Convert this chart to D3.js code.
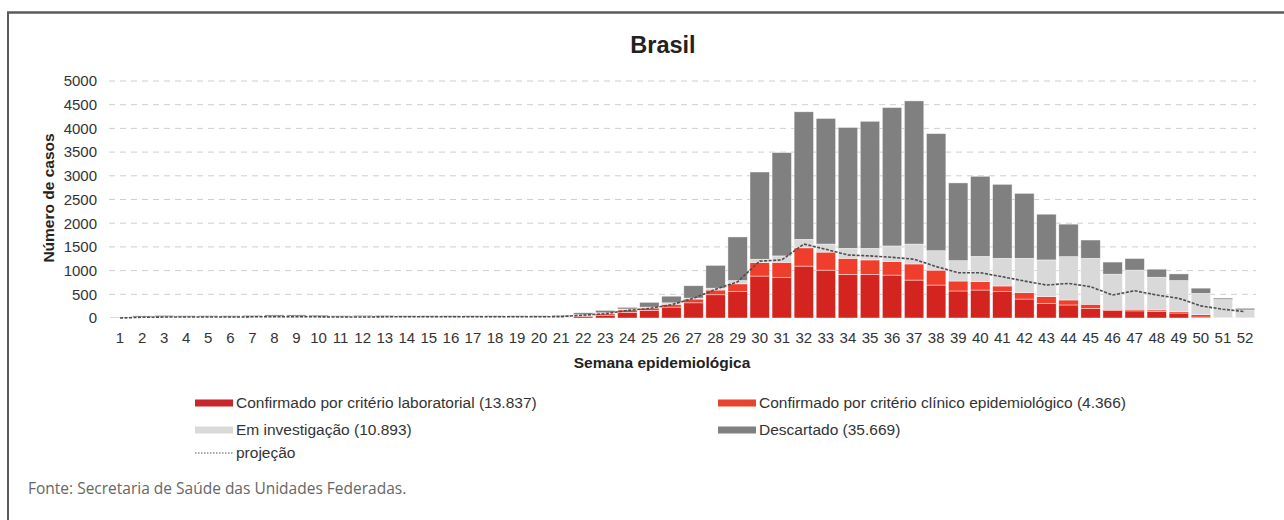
<!DOCTYPE html>
<html>
<head>
<meta charset="utf-8">
<script src="https://cdnjs.cloudflare.com/ajax/libs/d3/7.8.5/d3.min.js"></script>
<style>
  body { margin: 0; background: #fff; }
  svg { display: block; font-family: "Liberation Sans", Arial, sans-serif; }
</style>
</head>
<body>
<svg id="chart" width="1284" height="520"></svg>
<script>
// Epidemiological weeks
const weeks = [1,2,3,4,5,6,7,8,9,10,11,12,13,14,15,16,17,18,19,20,21,22,23,24,25,26,
  27,28,29,30,31,32,33,34,35,36,37,38,39,40,41,42,43,44,45,46,47,48,49,50,51,52];

// Confirmado por critério laboratorial
const labValues = [0,5,5,5,5,5,5,5,5,5,5,5,5,5,5,5,5,5,5,5,5,
  30,60,120,160,230,320,490,560,885,850,1095,1010,920,920,905,800,695,570,590,555,
  400,310,275,205,155,150,140,105,20,5,0];
// Confirmado por critério clínico epidemiológico
const clinValues = [5,5,7,5,5,5,7,10,10,10,5,7,7,5,5,5,5,5,5,5,7,
  20,30,50,50,60,80,100,160,285,325,385,380,340,305,285,340,315,210,180,120,
  135,140,105,85,30,35,30,30,50,10,5];
// Em investigação
const investValues = [5,10,13,15,15,15,18,20,20,15,15,18,18,15,15,15,15,15,15,15,18,
  20,20,20,20,30,20,40,70,70,135,180,170,210,245,330,420,410,430,530,585,
  725,775,915,970,740,825,690,655,450,375,165];
// Descartado
const descValues = [10,25,30,25,25,25,25,30,30,30,25,25,25,25,25,25,25,25,25,25,25,
  40,50,35,100,140,260,480,920,1840,2180,2690,2650,2550,2680,2920,3020,2470,1640,1690,1560,
  1370,965,685,385,255,245,170,140,110,30,35];
// projeção
const projValues = [0,15,20,20,20,20,25,25,25,25,20,20,25,25,25,25,25,25,25,25,30,
  60,90,160,200,280,415,605,765,1200,1225,1560,1450,1330,1310,1280,1240,1085,955,955,870,
  780,695,730,660,485,575,485,415,255,185,135];

const yTicks = [0,500,1000,1500,2000,2500,3000,3500,4000,4500,5000];

const seriesKeys = ["lab", "clin", "invest", "desc"];
const colors = { lab: "#d4241f", clin: "#ef3e2c", invest: "#d9d9d9", desc: "#808080" };

const legendItems = [
  { key: "lab", label: "Confirmado por critério laboratorial (13.837)", col: 0, row: 0 },
  { key: "clin", label: "Confirmado por critério clínico epidemiológico (4.366)", col: 1, row: 0 },
  { key: "invest", label: "Em investigação (10.893)", col: 0, row: 1 },
  { key: "desc", label: "Descartado (35.669)", col: 1, row: 1 },
  { key: "proj", label: "projeção", col: 0, row: 2 }
];

const svg = d3.select("#chart");

// build table for the stack
const table = weeks.map((w, i) => ({
  week: w, lab: labValues[i], clin: clinValues[i], invest: investValues[i], desc: descValues[i]
}));

const x = d3.scaleBand().domain(weeks).range([109, 1256]).paddingInner(0.12).paddingOuter(0.06);
const y = d3.scaleLinear().domain([0, 5000]).range([318, 81]);

// frame
svg.append("line").attr("x1", 7).attr("x2", 1284).attr("y1", 12.5).attr("y2", 12.5)
  .attr("stroke", "#5a5a5a").attr("stroke-width", 2.5);
svg.append("line").attr("x1", 8).attr("x2", 8).attr("y1", 12).attr("y2", 520)
  .attr("stroke", "#5a5a5a").attr("stroke-width", 2);

// title
svg.append("text").attr("x", 663).attr("y", 53).attr("text-anchor", "middle")
  .attr("font-size", 23.5).attr("font-weight", "bold").attr("fill", "#222").text("Brasil");

// grid lines
svg.append("g").selectAll("line").data(yTicks.filter(d => d > 0)).join("line")
  .attr("x1", 109).attr("x2", 1256)
  .attr("y1", d => y(d)).attr("y2", d => y(d))
  .attr("stroke", "#cfcfcf").attr("stroke-width", 1).attr("stroke-dasharray", "6,5");

// y axis
const yAxis = svg.append("g").attr("transform", "translate(99,0)")
  .call(d3.axisLeft(y).tickValues(yTicks).tickFormat(d3.format("d")).tickSize(0).tickPadding(2));
yAxis.select(".domain").remove();
yAxis.selectAll("text").attr("font-size", 15).attr("fill", "#333")
  .attr("font-family", "'Liberation Sans', Arial, sans-serif");

// x axis
const xAxis = svg.append("g").attr("transform", "translate(0,318)")
  .call(d3.axisBottom(x).tickSize(0).tickPadding(14));
xAxis.select(".domain").remove();
xAxis.selectAll("text").attr("font-size", 15).attr("fill", "#333")
  .attr("font-family", "'Liberation Sans', Arial, sans-serif");

// axis titles
svg.append("text").attr("transform", "translate(54,198) rotate(-90)")
  .attr("text-anchor", "middle").attr("font-size", 15.5).attr("font-weight", "bold")
  .attr("fill", "#222").text("Número de casos");
svg.append("text").attr("x", 662).attr("y", 368).attr("text-anchor", "middle")
  .attr("font-size", 15.5).attr("font-weight", "bold").attr("fill", "#222")
  .text("Semana epidemiológica");

// stacked bars
const stacked = d3.stack().keys(seriesKeys)(table);
svg.append("g").selectAll("g").data(stacked).join("g")
  .attr("fill", d => colors[d.key])
  .selectAll("rect").data(d => d).join("rect")
  .attr("x", d => x(d.data.week))
  .attr("width", x.bandwidth())
  .attr("y", d => y(d[1]))
  .attr("height", d => Math.max(0, y(d[0]) - y(d[1])))
  .attr("stroke", "#fff").attr("stroke-width", 0.6).attr("stroke-opacity", 0.7);

// projection line
const line = d3.line()
  .x((d, i) => x(weeks[i]) + x.bandwidth() / 2)
  .y(d => y(d));
svg.append("path").datum(projValues)
  .attr("d", line).attr("fill", "none")
  .attr("stroke", "#4d4d4d").attr("stroke-width", 1.6).attr("stroke-dasharray", "3,1.5");

// legend
const colX = [195, 718];
const rowY = [403, 430, 453];
const legend = svg.append("g").selectAll("g").data(legendItems).join("g")
  .attr("transform", d => `translate(${colX[d.col]},${rowY[d.row]})`);
legend.filter(d => d.key !== "proj").append("rect")
  .attr("x", 0).attr("y", -3.5).attr("width", 38).attr("height", 7)
  .attr("fill", d => d.key === "lab" ? "#c8262a" : d.key === "clin" ? "#e8432e" : colors[d.key]);
legend.filter(d => d.key === "proj").append("line")
  .attr("x1", 0).attr("x2", 38).attr("y1", 0).attr("y2", 0)
  .attr("stroke", "#8a8a8a").attr("stroke-width", 1.5).attr("stroke-dasharray", "1.5,1.5");
legend.append("text").attr("x", 41).attr("y", 0).attr("dy", "0.35em")
  .attr("font-size", 15.5).attr("fill", "#333").text(d => d.label);

// source note
svg.append("text").attr("x", 28).attr("y", 494)
  .attr("font-family", "'Open Sans', sans-serif").attr("font-size", 15.5)
  .attr("fill", "#666").text("Fonte: Secretaria de Saúde das Unidades Federadas.");
</script>
</body>
</html>
